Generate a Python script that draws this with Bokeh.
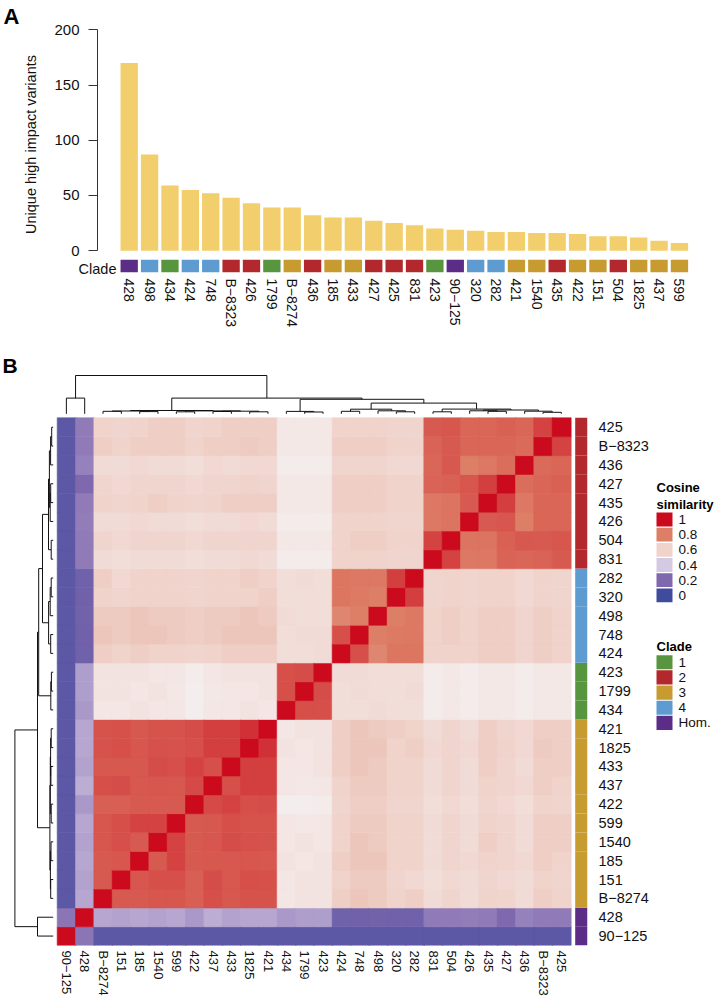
import numpy as np
from bokeh.plotting import figure
from bokeh.models import Range1d, FixedTicker, Label, LinearColorMapper, ColumnDataSource, FactorRange, Title
from bokeh.layouts import column, row
from bokeh.embed import file_html
from bokeh.resources import INLINE
from bokeh.transform import transform
from bokeh.core.properties import value

FONT = "Liberation Sans"
TXT = "#111111"

# ---------------- data: panel A ----------------
BAR_SAMPLES = ["428", "498", "434", "424", "748", "B\u22128323", "426", "1799", "B\u22128274", "436",
               "185", "433", "427", "425", "831", "423", "90\u2212125", "320", "282", "421",
               "1540", "435", "422", "151", "504", "1825", "437", "599"]
BAR_VALUES = [170, 87, 59, 55, 52, 48, 43, 39, 39, 32,
              30, 30, 27, 25, 23, 20, 19, 18, 17, 17,
              16, 16, 15, 13, 13, 12, 9, 7]
Y_TICKS = [0, 50, 100, 150, 200]

CLADE_OF = {
    "428": "Hom.", "90\u2212125": "Hom.",
    "498": "4", "424": "4", "748": "4", "320": "4", "282": "4",
    "434": "1", "1799": "1", "423": "1",
    "B\u22128323": "2", "426": "2", "436": "2", "427": "2", "425": "2", "831": "2", "435": "2", "504": "2",
    "B\u22128274": "3", "185": "3", "433": "3", "421": "3", "1540": "3", "422": "3", "151": "3",
    "1825": "3", "437": "3", "599": "3",
}
CLADE_NAMES = ["1", "2", "3", "4", "Hom."]
CLADE_COLORS = ["#57963F", "#B2282C", "#C79B30", "#5D9BD1", "#5B2D87"]

# ---------------- data: panel B ----------------
# order of heatmap columns (left->right) == rows (bottom->top)
HM_ORDER = ["90\u2212125", "428", "B\u22128274", "151", "185", "1540", "599", "422", "437", "433",
            "1825", "421", "434", "1799", "423", "424", "748", "498", "320", "282",
            "831", "504", "426", "435", "427", "436", "B\u22128323", "425"]

# lower triangle of cosine similarity matrix; entry k is row k+1 (cols 0..k)
SIM_LOWER = [
    [0.23],
    [0.09, 0.33],
    [0.09, 0.32, 0.86],
    [0.09, 0.33, 0.86, 0.87],
    [0.09, 0.32, 0.87, 0.88, 0.86],
    [0.09, 0.33, 0.87, 0.88, 0.90, 0.90],
    [0.09, 0.30, 0.855, 0.855, 0.86, 0.86, 0.86],
    [0.09, 0.34, 0.88, 0.885, 0.865, 0.87, 0.865, 0.89],
    [0.09, 0.32, 0.865, 0.865, 0.865, 0.885, 0.88, 0.90, 0.88],
    [0.09, 0.33, 0.873, 0.88, 0.87, 0.877, 0.873, 0.88, 0.91, 0.91],
    [0.09, 0.33, 0.873, 0.875, 0.865, 0.873, 0.873, 0.885, 0.91, 0.91, 0.93],
    [0.09, 0.30, 0.53, 0.53, 0.54, 0.53, 0.53, 0.50, 0.53, 0.53, 0.54, 0.53],
    [0.09, 0.31, 0.54, 0.54, 0.53, 0.54, 0.52, 0.50, 0.52, 0.53, 0.53, 0.54, 0.88],
    [0.09, 0.31, 0.54, 0.54, 0.54, 0.53, 0.53, 0.51, 0.53, 0.54, 0.54, 0.54, 0.88, 0.885],
    [0.09, 0.15, 0.61, 0.60, 0.61, 0.60, 0.60, 0.59, 0.60, 0.61, 0.61, 0.61, 0.56, 0.56, 0.57],
    [0.09, 0.155, 0.63, 0.62, 0.63, 0.63, 0.62, 0.61, 0.62, 0.63, 0.63, 0.63, 0.56, 0.57, 0.57, 0.88],
    [0.09, 0.16, 0.62, 0.62, 0.63, 0.62, 0.62, 0.61, 0.62, 0.62, 0.63, 0.62, 0.57, 0.56, 0.56, 0.785, 0.80],
    [0.09, 0.155, 0.60, 0.59, 0.60, 0.60, 0.60, 0.59, 0.60, 0.60, 0.60, 0.61, 0.56, 0.56, 0.56, 0.815, 0.805, 0.80],
    [0.09, 0.15, 0.61, 0.58, 0.60, 0.60, 0.60, 0.59, 0.60, 0.60, 0.61, 0.60, 0.56, 0.57, 0.56, 0.815, 0.81, 0.81, 0.91],
    [0.09, 0.24, 0.57, 0.56, 0.57, 0.57, 0.57, 0.56, 0.57, 0.57, 0.58, 0.57, 0.51, 0.51, 0.51, 0.60, 0.60, 0.60, 0.59, 0.59],
    [0.09, 0.24, 0.59, 0.58, 0.59, 0.59, 0.59, 0.58, 0.59, 0.59, 0.59, 0.59, 0.52, 0.52, 0.52, 0.60, 0.61, 0.61, 0.60, 0.60, 0.90],
    [0.09, 0.245, 0.57, 0.57, 0.58, 0.57, 0.57, 0.56, 0.57, 0.57, 0.58, 0.57, 0.51, 0.51, 0.51, 0.60, 0.60, 0.60, 0.59, 0.59, 0.81, 0.82],
    [0.09, 0.24, 0.60, 0.59, 0.60, 0.61, 0.60, 0.59, 0.60, 0.61, 0.61, 0.61, 0.52, 0.52, 0.52, 0.61, 0.61, 0.61, 0.60, 0.60, 0.81, 0.82, 0.86],
    [0.09, 0.20, 0.59, 0.58, 0.59, 0.59, 0.59, 0.58, 0.59, 0.59, 0.60, 0.59, 0.52, 0.52, 0.52, 0.61, 0.61, 0.61, 0.60, 0.60, 0.845, 0.85, 0.87, 0.91],
    [0.09, 0.25, 0.57, 0.57, 0.58, 0.57, 0.57, 0.56, 0.58, 0.57, 0.58, 0.58, 0.51, 0.51, 0.51, 0.59, 0.59, 0.59, 0.58, 0.58, 0.843, 0.865, 0.80, 0.81, 0.83],
    [0.09, 0.24, 0.61, 0.60, 0.61, 0.61, 0.61, 0.60, 0.61, 0.61, 0.62, 0.61, 0.52, 0.52, 0.52, 0.61, 0.61, 0.61, 0.60, 0.60, 0.845, 0.86, 0.84, 0.84, 0.84, 0.835],
    [0.09, 0.24, 0.60, 0.59, 0.60, 0.61, 0.61, 0.59, 0.60, 0.61, 0.61, 0.61, 0.52, 0.52, 0.52, 0.60, 0.60, 0.60, 0.59, 0.59, 0.86, 0.87, 0.84, 0.84, 0.85, 0.84, 0.90],
]

# hierarchical clustering merges: (child a, child b, height); "mK" refers to merge K
DENDRO_MERGES = [
    ("B\u22128274", "151", 2.5),
    ("185", "1540", 2.2),
    ("m0", "m1", 2.8),
    ("599", "422", 2.0),
    ("437", "433", 2.3),
    ("1825", "421", 2.0),
    ("m4", "m5", 2.6),
    ("m3", "m6", 2.9),
    ("m2", "m7", 3.3),
    ("1799", "423", 1.8),
    ("434", "m9", 2.4),
    ("424", "748", 2.5),
    ("320", "282", 2.0),
    ("498", "m12", 3.0),
    ("m11", "m13", 4.6),
    ("831", "504", 2.0),
    ("435", "427", 2.5),
    ("426", "m16", 3.0),
    ("B\u22128323", "425", 1.5),
    ("436", "m18", 2.6),
    ("m17", "m19", 3.8),
    ("m15", "m20", 4.7),
    ("m14", "m21", 10.7),
    ("m10", "m22", 14.5),
    ("m8", "m23", 15.7),
    ("90\u2212125", "428", 15.7),
    ("m25", "m24", 38.3),
]

LEGEND_VALUES = [1.0, 0.8, 0.6, 0.4, 0.2, 0.0]
LEGEND_LABELS = ["1", "0.8", "0.6", "0.4", "0.2", "0"]
PALETTE_STOPS = [0.0, 0.2, 0.4, 0.5, 0.6, 0.8, 1.0]
PALETTE_COLORS = ["#3F4B9D", "#7F68AE", "#D5CAE3", "#F4EEEE", "#F0D3CB", "#DD7F67", "#CB0A1E"]


# ---------------- helpers ----------------
def hex2rgb(h):
    h = h.lstrip("#")
    return [int(h[i:i + 2], 16) for i in (0, 2, 4)]


def make_palette(stops, colors, n=256):
    rgb = np.array([hex2rgb(c) for c in colors], dtype=float)
    out = []
    for tt in np.linspace(0, 1, n):
        r, g, b = (np.interp(tt, stops, rgb[:, k]) for k in range(3))
        out.append("#%02x%02x%02x" % (int(round(r)), int(round(g)), int(round(b))))
    return out


def clean_axis(ax):
    ax.axis_line_color = None
    ax.major_tick_line_color = None
    ax.minor_tick_line_color = None
    ax.major_tick_out = 0
    ax.major_tick_in = 0
    ax.minor_tick_out = 0
    ax.minor_tick_in = 0


mapper = LinearColorMapper(palette=make_palette(PALETTE_STOPS, PALETTE_COLORS), low=0, high=1)
clade_color = dict(zip(CLADE_NAMES, CLADE_COLORS))

W = 714
# ================= Panel A: bars =================
BAR0_PX = 128.7       # page x of first bar centre
PITCH = 20.38
ZERO_PX = 250.0       # page y of value 0
TOP_PX = 24.3         # page y of value 200
PX_PER_VAL = (ZERO_PX - TOP_PX) / 200.0
A_L, A_R = 97, 700    # frame left/right
A_T, A_B = 24, 259    # frame top/bottom (figure height = A_B)
idx = list(range(len(BAR_SAMPLES)))


def ax_x(px):
    return (px - BAR0_PX) / PITCH


def ax_y(py):
    return (ZERO_PX - py) / PX_PER_VAL


pa = figure(width=W, height=A_B,
            x_range=Range1d(ax_x(A_L), ax_x(A_R)),
            y_range=Range1d(ax_y(A_B), ax_y(A_T)),
            min_border_left=A_L, min_border_right=W - A_R,
            min_border_top=A_T, min_border_bottom=0,
            x_axis_location=None,
            output_backend="svg", toolbar_location=None)
pa.outline_line_color = None
pa.grid.visible = False
pa.title = Title(text="A", align="left", offset=-(A_L - 3), text_font=FONT, text_font_size="22px",
                 text_font_style="bold", text_color="#000000", standoff=2, vertical_align="bottom")

pa.vbar(x=idx, top=BAR_VALUES, bottom=0, width=0.85, fill_color="#F2CE6C", line_color=None)

yax = pa.yaxis[0]
yax.bounds = (0, 200)
yax.ticker = FixedTicker(ticks=Y_TICKS)
yax.minor_tick_line_color = None
yax.minor_tick_out = 0
yax.major_tick_out = 9
yax.major_tick_in = 0
yax.major_label_standoff = 9
yax.major_label_text_font = FONT
yax.major_label_text_font_size = "15px"
yax.major_label_text_color = TXT
yax.axis_line_color = "#333333"
yax.major_tick_line_color = "#333333"
yax.axis_label = "Unique high impact variants"
yax.axis_label_text_font = FONT
yax.axis_label_text_font_size = "14.5px"
yax.axis_label_text_font_style = "normal"
yax.axis_label_text_color = TXT
yax.axis_label_standoff = 12

# ================= Panel A: clade strip + labels =================
S_H = 348 - A_B
S_L = 118
S_B = 13              # strip bottom inside strip figure
ps = figure(width=W, height=S_H,
            x_range=Range1d(ax_x(S_L), ax_x(A_R)),
            y_range=FactorRange(factors=["Clade"]),
            min_border_left=S_L, min_border_right=W - A_R,
            min_border_top=0, min_border_bottom=S_H - S_B,
            output_backend="svg", toolbar_location=None)
ps.outline_line_color = None
ps.grid.visible = False
ps.rect(x=idx, y=["Clade"] * len(idx), width=0.85, height=1,
        fill_color=[clade_color[CLADE_OF[s]] for s in BAR_SAMPLES], line_color=None)

sy = ps.yaxis[0]
clean_axis(sy)
sy.major_label_standoff = 2
sy.major_label_text_font = FONT
sy.major_label_text_font_size = "14.5px"
sy.major_label_text_color = TXT

sx = ps.xaxis[0]
clean_axis(sx)
sx.ticker = FixedTicker(ticks=idx)
sx.major_label_overrides = {i: s for i, s in enumerate(BAR_SAMPLES)}
sx.major_label_orientation = "vertical"
sx.major_label_standoff = 6
sx.major_label_text_font = FONT
sx.major_label_text_font_size = "14px"
sx.major_label_text_color = TXT

# ================= Panel B =================
B_TOP = 348                # page y where panel B figures start
B_W, B_H = 652, 1004 - B_TOP
B_FR = 587                 # frame right (strip right edge)
B_FB = 597                 # frame bottom (heatmap bottom), local px
HM_L = 56.7                # heatmap left, local px
HM_T = 417.3 - B_TOP       # heatmap top, local px
CELL_W = (570.0 - HM_L) / 28
CELL_H = (B_FB - HM_T) / 28
GAP = 4.0


def bx(px):
    return (px - HM_L) / CELL_W


def by(py):
    return (B_FB - py) / CELL_H


pb = figure(width=B_W, height=B_H,
            x_range=Range1d(bx(0), bx(B_FR)), y_range=Range1d(by(B_FB), by(0)),
            min_border_left=0, min_border_top=0,
            min_border_right=B_W - B_FR, min_border_bottom=B_H - B_FB,
            x_axis_location="below", y_axis_location="right",
            output_backend="svg", toolbar_location=None)
pb.outline_line_color = None
pb.grid.visible = False

n = len(HM_ORDER)
M = np.eye(n)
for k, vals in enumerate(SIM_LOWER):
    for j, v in enumerate(vals):
        M[k + 1, j] = v
        M[j, k + 1] = v

cx, cy, cv = [], [], []
for i in range(n):
    for j in range(n):
        cx.append(i + 0.5)
        cy.append(j + 0.5)
        cv.append(float(M[i, j]))
src = ColumnDataSource(dict(x=cx, y=cy, v=cv))
pb.rect(x="x", y="y", width=1, height=1, source=src, dilate=True,
        fill_color=transform("v", mapper), line_color=transform("v", mapper), line_width=0.6)

# clade strip on the right of the heatmap
pb.quad(left=n + 4.7 / CELL_W, right=bx(B_FR),
        bottom=list(range(n)), top=[j + 1 for j in range(n)],
        fill_color=[clade_color[CLADE_OF[s]] for s in HM_ORDER], line_color=None)


def dendro_shapes(merges, order):
    pos = {name: i + 0.5 for i, name in enumerate(order)}
    hgt = {name: 0.0 for name in order}
    shapes = []
    for k, (a, b, h) in enumerate(merges):
        p1, p2 = pos[a], pos[b]
        shapes.append(([p1, p1, p2, p2], [hgt[a], h, h, hgt[b]]))
        pos["m%d" % k] = (p1 + p2) / 2.0
        hgt["m%d" % k] = h
    return shapes


shapes = dendro_shapes(DENDRO_MERGES, HM_ORDER)
pb.multi_line(xs=[s[0] for s in shapes],
              ys=[[n + (GAP + h) / CELL_H for h in s[1]] for s in shapes],
              line_color="#111111", line_width=1)
pb.multi_line(xs=[[-(GAP + h) / CELL_W for h in s[1]] for s in shapes],
              ys=[s[0] for s in shapes],
              line_color="#111111", line_width=1)

rax = pb.yaxis[0]
clean_axis(rax)
rax.ticker = FixedTicker(ticks=[j + 0.5 for j in range(n)])
rax.major_label_overrides = {j + 0.5: s for j, s in enumerate(HM_ORDER)}
rax.major_label_standoff = 11
rax.major_label_text_font = FONT
rax.major_label_text_font_size = "14.5px"
rax.major_label_text_color = TXT

bax = pb.xaxis[0]
clean_axis(bax)
bax.ticker = FixedTicker(ticks=[i + 0.5 for i in range(n)])
bax.major_label_overrides = {i + 0.5: s for i, s in enumerate(HM_ORDER)}
bax.major_label_orientation = "vertical"
bax.major_label_standoff = 5
bax.major_label_text_font = FONT
bax.major_label_text_font_size = "13px"
bax.major_label_text_color = TXT

pb.add_layout(Label(x=bx(2), y=by(5), text="B", text_font=FONT, text_font_size="21px",
                    text_font_style="bold", text_baseline="top", text_align="left", text_color="#000000"))

# ================= Legends =================
L_W = W - B_W
pl = figure(width=L_W, height=B_H, x_range=Range1d(0, L_W), y_range=Range1d(B_H, 0),
            x_axis_location=None, y_axis_location=None, min_border=0,
            output_backend="svg", toolbar_location=None)
pl.outline_line_color = None
pl.grid.visible = False

LX = 656 - B_W
SQ = 16.0
STEP = 16.67
pl.text(x=[LX, LX], y=[144.5, 163.5], text=["Cosine", "similarity"], text_font=value(FONT),
        text_font_size="13px", text_font_style="bold", text_baseline="top", text_color="#000000")
cos_top = [180.3 + k * STEP for k in range(len(LEGEND_VALUES))]
lsrc = ColumnDataSource(dict(t=cos_top, b=[t + 15.2 for t in cos_top], v=LEGEND_VALUES,
                             ym=[t + 7.6 for t in cos_top], lab=LEGEND_LABELS))
pl.quad(left=LX, right=LX + SQ, top="t", bottom="b", source=lsrc,
        fill_color=transform("v", mapper), line_color=None)
pl.text(x=LX + 22, y="ym", text="lab", source=lsrc, text_font=value(FONT), text_font_size="13.5px",
        text_baseline="middle", text_color=TXT)

pl.text(x=[LX], y=[319.5], text=["Clade"], text_font=value(FONT),
        text_font_size="13px", text_font_style="bold", text_baseline="top", text_color="#000000")
cl_top = [337 + k * STEP for k in range(len(CLADE_NAMES))]
csrc = ColumnDataSource(dict(t=cl_top, b=[t + 15.5 for t in cl_top], c=CLADE_COLORS,
                             ym=[t + 7.75 for t in cl_top], lab=CLADE_NAMES))
pl.quad(left=LX, right=LX + SQ, top="t", bottom="b", source=csrc, fill_color="c", line_color=None)
pl.text(x=LX + 22, y="ym", text="lab", source=csrc, text_font=value(FONT), text_font_size="13.5px",
        text_baseline="middle", text_color=TXT)

layout = column(row(pa), row(ps), row(pb, pl))
open("out.html", "w").write(file_html(layout, INLINE))
